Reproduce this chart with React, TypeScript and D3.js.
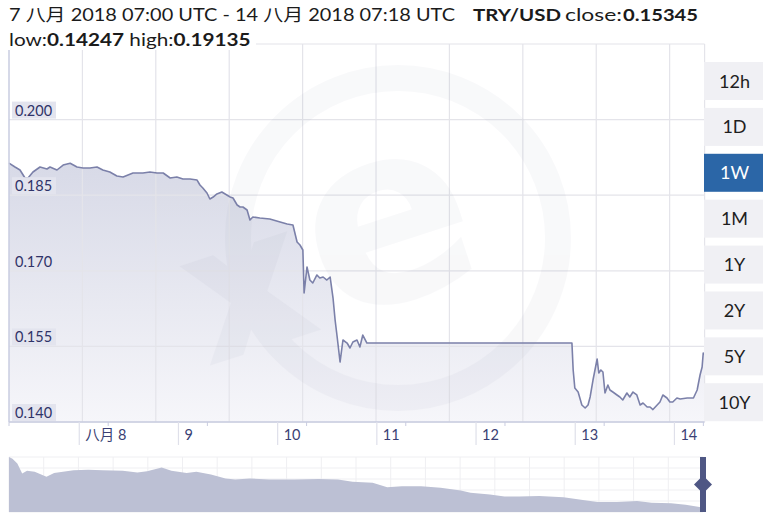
import React from 'react';
import * as d3 from 'd3';

// ---- data ----
const rangeStart = '2018-08-07T07:00:00Z';
const rangeEnd = '2018-08-14T07:18:00Z';

const hoursFromStart = [
  0, 1.45, 2.66, 3.87, 4.6, 5.8, 7.5, 9.19, 9.92, 11.6, 13.1, 14.8, 16.45, 17.9, 19.6, 21.3, 22.7,
  24.4, 26.1, 27.6, 30.0, 32.4, 34.1, 35.8, 37.3, 39.0, 40.6, 42.1, 43.8, 45.5, 46.2, 46.9, 47.9,
  48.6, 49.4, 50.3, 51.5, 52.7, 53.5, 54.2, 55.2, 55.9, 56.6, 57.6, 58.3, 59.0, 60.7, 63.1, 65.6,
  67.3, 68.7, 69.7, 70.4, 71.1, 71.4, 72.1, 72.8, 73.5, 74.5, 75.2, 76.0, 76.9, 77.7, 78.4, 78.9,
  79.4, 80.1, 80.8, 81.8, 82.5, 83.2, 84.2, 84.9, 85.6, 86.6, 87.3, 136.2, 136.5, 136.9, 137.7,
  138.6, 139.4, 140.1, 140.6, 141.3, 142.3, 142.7, 143.2, 143.7, 144.2, 144.9, 145.4, 146.1,
  147.1, 147.8, 148.5, 149.5, 150.2, 150.97, 151.9, 152.7, 153.4, 154.4, 155.1, 155.8, 157.5,
  158.2, 159.2, 159.9, 160.6, 161.6, 162.4, 164.1, 165.6, 166.5, 167.2, 167.7, 167.97, 168.3,
];
const rates = [
  0.19135, 0.19059, 0.19, 0.18841, 0.18841, 0.1896, 0.19059, 0.1902, 0.19059, 0.19, 0.19099,
  0.19135, 0.19059, 0.1904, 0.1904, 0.19059, 0.19, 0.1896, 0.18881, 0.18861, 0.1894, 0.1894,
  0.1896, 0.1894, 0.1894, 0.18841, 0.18861, 0.18821, 0.18821, 0.18801, 0.18702, 0.18643,
  0.18544, 0.18425, 0.18464, 0.18524, 0.18563, 0.18504, 0.18464, 0.18444, 0.18305, 0.18266,
  0.18266, 0.18206, 0.18008, 0.18067, 0.18048, 0.18028, 0.17968, 0.17929, 0.17909, 0.17571,
  0.17512, 0.17413, 0.1656, 0.17075, 0.16817, 0.16758, 0.16917, 0.16857, 0.16877, 0.16817,
  0.16877, 0.1646, 0.16024, 0.15686, 0.1519, 0.15627, 0.15567, 0.15468, 0.15587, 0.15627,
  0.15488, 0.15726, 0.15567, 0.15567, 0.15567, 0.15032, 0.14675, 0.14595, 0.14337, 0.14278,
  0.14337, 0.14496, 0.14833, 0.1525, 0.14972, 0.15032, 0.14992, 0.14575, 0.14734, 0.14635,
  0.14595, 0.14536, 0.14496, 0.14437, 0.14575, 0.14496, 0.14595, 0.14536, 0.14337, 0.14377,
  0.14298, 0.14298, 0.14247, 0.14397, 0.14536, 0.14476, 0.14397, 0.14397, 0.14476, 0.14456,
  0.14476, 0.14476, 0.14635, 0.14933, 0.15091, 0.15369, 0.15345,
];

const yTickValues = [0.14, 0.155, 0.17, 0.185, 0.2];
const yDomain = [0.14, 0.215];
const dayTickDates = ['2018-08-08', '2018-08-09', '2018-08-10', '2018-08-11', '2018-08-12', '2018-08-13', '2018-08-14'];
const dayTickLabels = ['八月 8', '9', '10', '11', '12', '13', '14'];
const gridStepHours = 17.76;
const rangeButtons = ['12h', '1D', '1W', '1M', '1Y', '2Y', '5Y', '10Y'];
const selectedRange = '1W';

const titleDates = '7 八月 2018 07:00 UTC - 14 八月 2018 07:18 UTC';
const pairName = 'TRY/USD';
const closeValue = '0.15345';
const lowValue = '0.14247';
const highValue = '0.19135';

// navigator (long-term history, relative position & level)
const navPos = [
  0, 0.005, 0.012, 0.019, 0.026, 0.037, 0.054, 0.065, 0.093, 0.114, 0.135, 0.164, 0.185, 0.199,
  0.22, 0.234, 0.256, 0.27, 0.291, 0.312, 0.326, 0.347, 0.375, 0.411, 0.446, 0.474, 0.495, 0.524,
  0.545, 0.566, 0.594, 0.622, 0.651, 0.665, 0.693, 0.714, 0.735, 0.764, 0.799, 0.827, 0.848,
  0.876, 0.905, 0.926, 0.954, 0.975, 0.995, 1.0,
];
const navLevel = [
  1.0, 0.97, 0.88, 0.7, 0.75, 0.73, 0.64, 0.71, 0.76, 0.77, 0.76, 0.75, 0.72, 0.74, 0.81, 0.75,
  0.71, 0.73, 0.68, 0.61, 0.59, 0.61, 0.59, 0.59, 0.6, 0.59, 0.55, 0.53, 0.45, 0.47, 0.47, 0.44,
  0.39, 0.35, 0.32, 0.28, 0.28, 0.29, 0.27, 0.22, 0.18, 0.18, 0.2, 0.17, 0.16, 0.13, 0.09, 0.08,
];

const FONT = 'Lato, "Noto Sans CJK SC", sans-serif';

export default function App() {
  const W = 768;
  const H = 518;
  const left = 9;
  const right = 704.6;
  const top = 44;
  const bottom = 422;

  const t0 = new Date(rangeStart).getTime();
  const x = d3.scaleTime().domain([new Date(rangeStart), new Date(rangeEnd)]).range([left, right]);
  const y = d3.scaleLinear().domain(yDomain).range([bottom, top]);

  const pts = hoursFromStart.map((h, i) => ({ d: new Date(t0 + h * 3600e3), v: rates[i] }));
  const line = d3.line<any>().x((p) => x(p.d)).y((p) => y(p.v));
  const area = d3.area<any>().x((p) => x(p.d)).y0(bottom).y1((p) => y(p.v));

  const gridDates: Date[] = [];
  for (let k = 1; ; k++) {
    const d = new Date(t0 + k * gridStepHours * 3600e3);
    if (x(d) > right - 5) break;
    gridDates.push(d);
  }
  const gridTop = d3.max(yTickValues)! + 0.015;
  const hGrid = [...yTickValues, gridTop];

  const dayDates = dayTickDates.map((s) => new Date(s + 'T00:00:00Z'));
  const minorDates = dayTickDates
    .map((s) => new Date(s + 'T07:00:00Z'))
    .filter((d) => x(d) < right);
  minorDates.unshift(new Date('2018-08-07T07:00:00Z'));

  // navigator
  const nLeft = 9;
  const nRight = 703;
  const nTop = 457;
  const nBottom = 512;
  const nx = d3.scaleLinear().domain([0, 1]).range([nLeft, nRight]);
  const ny = d3.scaleLinear().domain([0, 1]).range([nBottom, nTop]);
  const navArea = d3
    .area<number>()
    .x((_, i) => nx(navPos[i]))
    .y0(nBottom)
    .y1((v) => ny(v));
  const navCols = 20;
  const navRows = 5;

  // buttons
  const btnX = 704;
  const btnW = 59;
  const btnH = 38;
  const btnY = d3
    .scaleBand()
    .domain(rangeButtons)
    .range([62, 62 + 45 * rangeButtons.length])
    .paddingInner(7 / 45)
    .paddingOuter(0);

  const titleFill = '#1b1b1b';

  return (
    <svg
      width={W}
      height={H}
      style={{ position: 'fixed', left: 0, top: 0, background: '#fff' }}
      fontFamily={FONT}
    >
      <defs>
        <linearGradient id="fillGrad" x1="0" y1={top} x2="0" y2={bottom} gradientUnits="userSpaceOnUse">
          <stop offset="0" stopColor="#ccd0e0" />
          <stop offset="0.35" stopColor="#d9dbe8" />
          <stop offset="1" stopColor="#f6f6fa" />
        </linearGradient>
        <clipPath id="plotClip">
          <rect x={left} y={top} width={right - left} height={bottom - top} />
        </clipPath>
      </defs>

      <rect x={0} y={0} width={W} height={H} fill="#fff" />

      {/* area */}
      <path d={area(pts) || ''} fill="url(#fillGrad)" />

      {/* grid */}
      {hGrid.map((v) => (
        <line key={'h' + v} x1={left} x2={right} y1={y(v)} y2={y(v)} stroke="#e4e4ea" strokeWidth={1.2} />
      ))}
      {gridDates.map((d, i) => (
        <line key={'v' + i} x1={x(d)} x2={x(d)} y1={top} y2={bottom} stroke="#e4e4ea" strokeWidth={1.2} />
      ))}
      <line x1={right} x2={right} y1={top} y2={bottom} stroke="#e4e4ea" strokeWidth={1.2} />

      {/* watermark */}
      <g clipPath="url(#plotClip)" opacity={0.045} fill="none" stroke="#6a6f90">
        <circle cx={398} cy={238} r={160} strokeWidth={26} />
        <text
          x={392}
          y={300}
          fontSize={250}
          fontWeight={700}
          textAnchor="middle"
          fill="#6a6f90"
          stroke="none"
          transform="rotate(-18 392 238)"
          fontFamily="'DejaVu Sans', sans-serif"
        >
          e
        </text>
        <text
          x={250}
          y={350}
          fontSize={190}
          fontWeight={700}
          textAnchor="middle"
          fill="#6a6f90"
          stroke="none"
          transform="rotate(-18 250 300)"
          fontFamily="'DejaVu Sans', sans-serif"
        >
          x
        </text>
      </g>

      {/* line */}
      <path d={line(pts) || ''} fill="none" stroke="#7b80a9" strokeWidth={1.6} strokeLinejoin="round" />

      {/* axes lines */}
      <line x1={left} x2={left} y1={top} y2={bottom} stroke="#c9cce0" strokeWidth={1.5} />
      <line x1={left} x2={right} y1={bottom} y2={bottom} stroke="#c9cce0" strokeWidth={1.5} />

      {/* y labels */}
      {yTickValues.map((v) => (
        <g key={'yl' + v}>
          <rect x={12} y={y(v) - 18} width={44} height={17} fill="#e3e4ee" />
          <text x={15} y={y(v) - 4} fontSize={14.5} fill="#2f3368">
            {d3.format('.3f')(v)}
          </text>
        </g>
      ))}

      {/* x ticks */}
      {dayDates.map((d, i) => (
        <g key={'xt' + i}>
          <line x1={x(d)} x2={x(d)} y1={bottom} y2={bottom + 23} stroke="#dfe0ea" strokeWidth={1.2} />
          <text x={x(d) + 6} y={bottom + 18} fontSize={14.5} fill="#3a3f74">
            {dayTickLabels[i]}
          </text>
        </g>
      ))}
      {minorDates.map((d, i) => (
        <line key={'mt' + i} x1={x(d)} x2={x(d)} y1={bottom} y2={bottom + 4} stroke="#c9cce0" strokeWidth={1} />
      ))}

      {/* title */}
      <rect x={0} y={0} width={W - 60} height={top - 1} fill="#fff" />
      <rect x={0} y={top - 2} width={256} height={8} fill="#fff" />
      <text x={9} y={21} fontSize={17} fill={titleFill} textLength={446} lengthAdjust="spacingAndGlyphs">
        {titleDates}
      </text>
      <text x={473} y={21} fontSize={17} fontWeight={700} fill={titleFill} textLength={88} lengthAdjust="spacingAndGlyphs">
        {pairName}
      </text>
      <text x={565} y={21} fontSize={17} fill={titleFill} textLength={57} lengthAdjust="spacingAndGlyphs">
        close:
      </text>
      <text x={623} y={21} fontSize={17} fontWeight={700} fill={titleFill} textLength={75} lengthAdjust="spacingAndGlyphs">
        {closeValue}
      </text>
      <g transform="translate(9,0) scale(1.22,1)">
        <text x={0} y={46} fontSize={17} fill={titleFill}>
          <tspan>low:</tspan>
          <tspan fontWeight={700}>{lowValue}</tspan>
          <tspan> high:</tspan>
          <tspan fontWeight={700}>{highValue}</tspan>
        </text>
      </g>

      {/* range buttons */}
      {rangeButtons.map((b) => {
        const sel = b === selectedRange;
        const by = btnY(b)!;
        return (
          <g key={b}>
            <rect x={btnX} y={by} width={btnW} height={btnH} fill={sel ? '#2b66a7' : '#f0f0f4'} />
            <text
              x={btnX + btnW / 2 + 1}
              y={by + btnH / 2 + 6.5}
              fontSize={18}
              textAnchor="middle"
              fill={sel ? '#ffffff' : '#1e1e1e'}
            >
              {b}
            </text>
          </g>
        );
      })}

      {/* navigator */}
      <g>
        {d3.range(navRows + 1).map((r) => (
          <line
            key={'nr' + r}
            x1={nLeft}
            x2={nRight}
            y1={nTop + (r * (nBottom - nTop)) / navRows}
            y2={nTop + (r * (nBottom - nTop)) / navRows}
            stroke="#efeff2"
          />
        ))}
        {d3.range(navCols + 1).map((c) => (
          <line
            key={'nc' + c}
            x1={nLeft + (c * (nRight - nLeft)) / navCols}
            x2={nLeft + (c * (nRight - nLeft)) / navCols}
            y1={nTop}
            y2={nBottom}
            stroke="#efeff2"
          />
        ))}
        <path d={navArea(navLevel) || ''} fill="#bcc0d4" />
        <rect x={nRight - 3} y={nTop} width={6} height={nBottom - nTop} fill="#4f5784" />
        <polygon
          points={`${nRight - 9},${(nTop + nBottom) / 2} ${nRight},${(nTop + nBottom) / 2 - 9} ${nRight + 9},${(nTop + nBottom) / 2} ${nRight},${(nTop + nBottom) / 2 + 9}`}
          fill="#4f5784"
        />
      </g>
    </svg>
  );
}
